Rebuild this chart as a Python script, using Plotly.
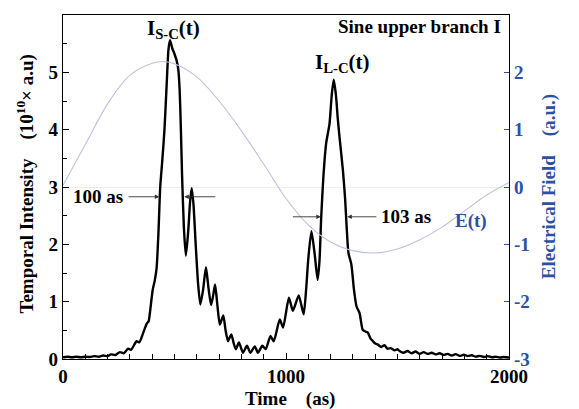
import plotly.graph_objects as go

# temporal intensity (10^10 a.u.)
time_as = [0, 20, 40, 60, 80, 100, 120, 140, 160, 180, 200, 215, 235, 255, 272, 292, 305,
           330, 342, 360, 376, 384, 392, 402, 412, 420, 428, 436, 445, 455, 465, 473, 480,
           490, 500, 510, 517, 523, 528, 534, 542, 551, 561, 570, 577, 585, 595, 606, 616,
           628, 641, 652, 664, 673, 682, 692, 703, 711, 719, 729, 740, 748, 755, 765, 775,
           789, 807, 825, 840, 860, 874, 894, 909, 930, 945, 972, 987, 1013, 1031, 1057,
           1079, 1090, 1100, 1114, 1128, 1142, 1150, 1158, 1168, 1180, 1195, 1205, 1214,
           1224, 1232, 1240, 1255, 1265, 1272, 1280, 1293, 1305, 1316, 1330, 1344, 1356,
           1367, 1380, 1390, 1400, 1412, 1427, 1442, 1455, 1470, 1487, 1500, 1509, 1527,
           1545, 1563, 1581, 1599, 1617, 1635, 1653, 1671, 1689, 1707, 1725, 1743, 1761,
           1779, 1797, 1815, 1833, 1851, 1869, 1887, 1905, 1923, 1941, 1959, 1977, 2000]
intensity = [0.03, 0.04, 0.03, 0.04, 0.03, 0.04, 0.035, 0.05, 0.04, 0.06, 0.05, 0.08, 0.07,
             0.12, 0.10, 0.18, 0.16, 0.31, 0.29, 0.46, 0.62, 0.66, 0.88, 1.2, 1.38, 1.6, 2.2,
             3.0, 3.45, 4.0, 4.8, 5.4, 5.56, 5.42, 5.32, 5.2, 5.05, 4.7, 4.1, 3.2, 2.3, 1.8,
             2.2, 2.75, 2.98, 2.7, 2.0, 1.3, 0.95, 1.2, 1.6, 1.25, 0.94, 1.1, 1.3, 0.95, 0.6,
             0.68, 0.76, 0.5, 0.31, 0.38, 0.43, 0.28, 0.17, 0.29, 0.11, 0.23, 0.11, 0.22,
             0.11, 0.23, 0.17, 0.40, 0.31, 0.69, 0.55, 1.07, 0.84, 1.11, 0.78, 1.2, 1.75,
             2.23, 1.85, 1.38, 1.7, 2.48, 3.2, 3.76, 4.1, 4.6, 4.87, 4.6, 4.2, 3.87, 3.3,
             2.8, 2.3, 1.85, 1.65, 1.2, 0.92, 0.8, 0.51, 0.48, 0.46, 0.35, 0.31, 0.27, 0.25,
             0.21, 0.24, 0.18, 0.19, 0.15, 0.17, 0.14, 0.11, 0.14, 0.10, 0.13, 0.09, 0.12,
             0.09, 0.11, 0.08, 0.10, 0.07, 0.09, 0.06, 0.085, 0.055, 0.075, 0.05, 0.065,
             0.04, 0.055, 0.035, 0.05, 0.03, 0.04, 0.025, 0.035, 0.025]

# driving electric field (a.u.)
field_t = [0, 100, 200, 300, 400, 450, 500, 600, 700, 800, 900, 1000, 1100, 1200,
           1300, 1400, 1500, 1600, 1700, 1800, 1900, 2000]
field = [0.03, 0.74, 1.45, 1.95, 2.16, 2.19, 2.15, 1.92, 1.5, 0.98, 0.4, -0.2,
         -0.66, -0.96, -1.11, -1.15, -1.08, -0.92, -0.7, -0.42, -0.14, 0.08]

# FWHM markers: (tail, head) times and level
fw_level_sc = 2.83
fw_left_sc = [287, 432]
fw_right_sc = [690, 544]
fw_level_lc = 2.48
fw_left_lc = [1024, 1156]
fw_right_lc = [1412, 1275]

blue = "#2e4fa3"
font = "Liberation Serif"

fig = go.Figure()
fig.add_trace(go.Scatter(x=field_t, y=field, yaxis="y2", mode="lines", line_shape="spline",
                         line=dict(color="#bcc0e0", width=1.1), showlegend=False))
fig.add_trace(go.Scatter(x=time_as, y=intensity, mode="lines", line_shape="spline",
                         line=dict(color="black", width=2.4, smoothing=0.6), showlegend=False))

for lvl, pair in [(fw_level_sc, fw_left_sc), (fw_level_sc, fw_right_sc),
                  (fw_level_lc, fw_left_lc), (fw_level_lc, fw_right_lc)]:
    fig.add_annotation(x=pair[1], y=lvl, ax=pair[0], ay=lvl, xref="x", yref="y",
                       axref="x", ayref="y", text="", showarrow=True, arrowhead=2,
                       arrowsize=1, arrowwidth=0.9, arrowcolor="#333")

txt = dict(family=font, size=19, color="black")
fig.add_annotation(x=155, y=fw_level_sc, text="<b>100 as</b>", showarrow=False, font=txt)
fig.add_annotation(x=1540, y=fw_level_lc, text="<b>103 as</b>", showarrow=False, font=txt)
fig.add_annotation(x=1830, y=2.4, text="<b>E(t)</b>", showarrow=False,
                   font=dict(family=font, size=19, color=blue))
fig.add_annotation(x=495, y=5.76, text="<b>I<sub>S-C</sub>(t)</b>", showarrow=False,
                   font=dict(family=font, size=21, color="black"))
fig.add_annotation(x=1250, y=5.16, text="<b>I<sub>L-C</sub>(t)</b>", showarrow=False,
                   font=dict(family=font, size=21, color="black"))
fig.add_annotation(x=0.987, y=0.966, xref="paper", yref="paper", xanchor="right",
                   yanchor="middle", text="<b>Sine upper branch I</b>", showarrow=False,
                   font=txt)

# axis titles placed by hand
fig.add_annotation(x=-0.083, y=0.51, xref="paper", yref="paper", textangle=-90,
                   xanchor="center", yanchor="middle",
                   text="<b>Temporal Intensity    (10<sup>10</sup>× a.u)</b>",
                   showarrow=False, font=dict(family=font, size=19, color="black"))
fig.add_annotation(x=1.09, y=0.5, xref="paper", yref="paper", textangle=-90,
                   xanchor="center", yanchor="middle",
                   text="<b>Electrical Field    (a.u.)</b>",
                   showarrow=False, font=dict(family=font, size=19, color=blue))
fig.add_annotation(x=0.51, y=-0.117, xref="paper", yref="paper",
                   xanchor="center", yanchor="middle", text="<b>Time    (as)</b>",
                   showarrow=False, font=dict(family=font, size=19, color="black"))

tick_font = dict(family=font, size=19, color="black", weight="bold")
# the page body has an 8px margin, so the figure is shrunk by that much
fig.update_layout(
    width=571, height=401,
    margin=dict(l=55, r=70, t=7, b=50),
    plot_bgcolor="white", paper_bgcolor="white",
    font=dict(family=font, size=19, color="black"),
    xaxis=dict(range=[0, 2000], tickvals=[0, 1000, 2000], ticktext=["<b>0</b>", "<b>1000</b>", "<b>2000</b>"],
               ticks="inside", ticklen=6,
               tickcolor="black", showline=True, linecolor="black", linewidth=1.3,
               mirror=True, showgrid=False, zeroline=False, automargin=False,
               tickfont=tick_font,
               minor=dict(dtick=100, ticks="inside", ticklen=5, tickcolor="black")),
    yaxis=dict(range=[0, 6], tickvals=[0, 1, 2, 3, 4, 5, 6],
               ticktext=["<b>%d</b>" % v for v in range(7)],
               ticks="inside", ticklen=6, tickcolor="black",
               showline=True, linecolor="black", linewidth=1.3, showgrid=False,
               zeroline=False, automargin=False, tickfont=tick_font,
               minor=dict(dtick=0.5, ticks="inside", ticklen=4, tickcolor="black")),
    yaxis2=dict(range=[-3, 3], tickvals=[-3, -2, -1, 0, 1, 2, 3],
                ticktext=["<b>%d</b>" % v for v in range(-3, 4)],
                overlaying="y", side="right", ticks="inside",
                ticklen=5, tickcolor=blue, showline=True, linecolor="black", linewidth=1.3,
                showgrid=False, zeroline=True, zerolinecolor="#eeeeee", zerolinewidth=1,
                automargin=False, tickfont=dict(family=font, size=19, color=blue)),
)

fig.write_html("out.html")
